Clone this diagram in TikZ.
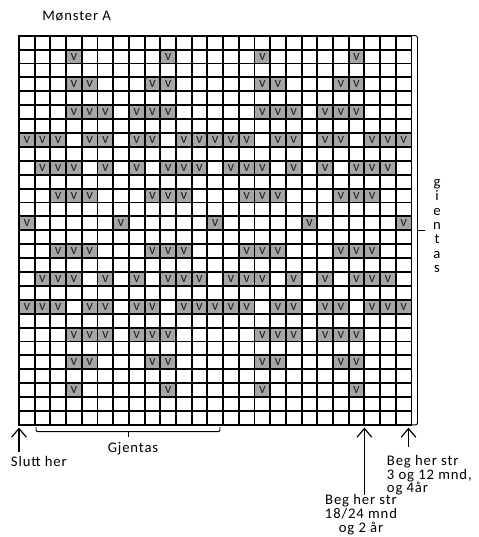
\documentclass[tikz,border=0pt]{standalone}
\usepackage{fontspec}
\setmainfont{Carlito}[LetterSpace=6]
\usetikzlibrary{arrows.meta,positioning}
\definecolor{vgray}{RGB}{166,166,166}

\begin{document}
\begin{tikzpicture}[
    x=0.75pt, y=-0.75pt,
    font=\fontsize{11}{10.3}\selectfont,
    gridline/.style={line width=1.4pt, line cap=rect},
    vcell/.style={fill=vgray, minimum width=11.775pt, minimum height=10.425pt,
        inner sep=0pt, text=black!85, font=\fontsize{11}{11}\selectfont},
    bracket/.style={line width=0.7pt, rounded corners=1.5pt},
    uparrow/.style={-{Straight Barb[length=6.5pt,width=11pt]}, line width=0.9pt},
    label/.style={inner sep=0pt},
]
\useasboundingbox (0,0) rectangle (479,537);

\node[label, anchor=base west] (title) at (42,20) {Mønster A};

\begin{scope}[shift={(19,35.7)}, x=11.775pt, y=-10.425pt]
    \coordinate (gtl) at (0,0);
    \coordinate (gtr) at (25,0);
    \coordinate (gmr) at (25,14);
    \coordinate (gbl) at (0,28);
    \coordinate (gbr) at (25,28);
    \coordinate (c22b) at (22,28);
    \foreach \r/\cols in {
        1/{3,9,15,21},
        3/{3,4,8,9,15,16,20,21},
        5/{3,4,5,7,8,9,15,16,17,19,20,21},
        7/{0,1,2,4,5,7,8,10,11,12,13,14,16,17,19,20,22,23,24},
        9/{1,2,3,5,7,9,10,11,13,14,15,17,19,21,22,23},
        11/{2,3,4,8,9,10,14,15,16,20,21,22},
        13/{0,6,12,18,24}} {
        \pgfmathtruncatemacro{\rr}{26-\r}
        \foreach \c in \cols {
            \node[vcell] (v-\r-\c) at (\c+0.5,\r+0.5) {v};
            \node[vcell] (v-\rr-\c) at (\c+0.5,\rr+0.5) {v};
        }
    }
    \foreach \c in {0,...,25}
        \draw[gridline] (\c,0) -- (\c,28);
    \foreach \r in {0,...,28}
        \draw[gridline] (0,\r) -- (25,\r);
\end{scope}

\draw[bracket] (gtr) -- ++(6,0) |- (gbr);
\draw[bracket] (gmr) ++(6,0) -- ++(7,0);
\node[label, align=center, font=\fontsize{11}{10.7}\selectfont] (side) at (437,226)
    {g\\i\\e\\n\\t\\a\\s};

\coordinate (brl) at (36,427);
\coordinate (brr) at (220,427);
\coordinate (brm) at (128,431.7);
\draw[bracket] (brl) -- ++(0,4.7) -| (brr);
\draw[bracket] (brm) -- ++(0,5);
\node[label, anchor=base] (gjentas) at (133,452.3) {Gjentas};

\node[label, anchor=base west] (slutt) at (10.7,466) {Slutt her};
\draw[uparrow, shorten <=3pt] (slutt.north -| gbl) -- ([yshift=-2pt]gbl);

\coordinate (a1) at (408.5,425);
\node[label, align=left, anchor=north west] (beg1) at (386.7,455) {Beg her str\\3 og 12 mnd,\\og 4år};
\draw[uparrow, shorten <=6pt] (beg1.north -| a1) -- ([yshift=-2pt]a1);

\node[label, align=center, anchor=north] (beg2) at (361,494.5) {Beg her str\\18/24 mnd\\og 2 år};
\draw[uparrow] (beg2.north -| c22b) -- ([yshift=-2pt]c22b);
\end{tikzpicture}
\end{document}
